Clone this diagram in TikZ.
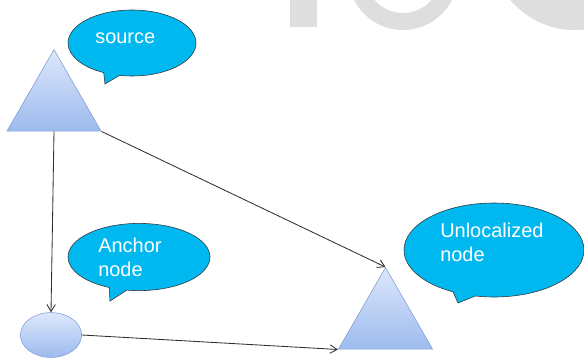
\documentclass[tikz,border=0pt]{standalone}
\usepackage{fontspec}
\setmainfont{Liberation Sans}
\usetikzlibrary{shapes.geometric, shapes.callouts, arrows.meta}
\definecolor{cCyan}{HTML}{00B8F0}
\definecolor{cTriTop}{HTML}{DDE7FB}
\definecolor{cTriBot}{HTML}{9DBBEE}
\definecolor{cTriLine}{HTML}{7D9ED6}
\definecolor{cMark}{HTML}{DEDEDE}
\definecolor{cLine}{HTML}{303030}
\tikzset{
  trinode/.style={
    regular polygon, regular polygon sides=3, inner sep=0pt,
    minimum size=2.72cm, draw=cTriLine, top color=cTriTop, bottom color=cTriBot
  },
  ovalnode/.style={
    ellipse, inner sep=0pt, minimum width=1.53cm, minimum height=1.12cm,
    draw=cTriLine, top color=cTriTop, bottom color=cTriBot
  },
  bubble/.style={
    ellipse callout, draw=black!80, fill=cCyan, inner sep=0pt
  },
  bubtext/.style={
    anchor=base west, text=white, align=left, inner sep=0pt,
    font=\fontsize{14.2}{16.8}\selectfont
  },
  arrow/.style={-{Straight Barb[length=5pt,width=6pt]}, cLine, line width=0.6pt},
}

\begin{document}
\begin{tikzpicture}[x=0.025cm, y=-0.025cm]
  \useasboundingbox (0,0) rectangle (584,358);

  % faint watermark letters at the top edge
  \begin{scope}
    \clip (0,0) rectangle (584,358);
    \fill[cMark] (290,-5) rectangle (317,27);
    \fill[cMark, even odd rule] (403,-25) circle[radius=55] (403,-25) circle[radius=38];
    \fill[cMark] (575,-55) circle[radius=85];
  \end{scope}

  \node[trinode] (source) at (54,104) {};
  \node[trinode] (unloc) at (385.5,322) {};
  \node[ovalnode] (anchor) at (51,335) {};

  \node[bubble, minimum width=3.2cm, minimum height=1.65cm,
        callout absolute pointer={(105,84)}] (srcnote) at (132,43) {};
  \node[bubble, minimum width=3.55cm, minimum height=1.68cm,
        callout absolute pointer={(110,301)}] (anchnote) at (139,257) {};
  \node[bubble, minimum width=4.5cm, minimum height=2.35cm,
        callout absolute pointer={(458,303)}] (unlocnote) at (494,250) {};

  % text baselines (last line for two-line notes)
  \node[bubtext] (srctext) at (95,43) {source};
  \node[bubtext] (anchtext) at (98,276) {Anchor\\node};
  \node[bubtext] (unloctext) at (440,261) {Unlocalized\\node};

  \draw[arrow] (source.south) -- (anchor.north);
  \draw[arrow] (source.corner 3) -- (unloc.corner 1);
  \draw[arrow] (anchor.east) -- (unloc.corner 2);

\end{tikzpicture}
\end{document}
